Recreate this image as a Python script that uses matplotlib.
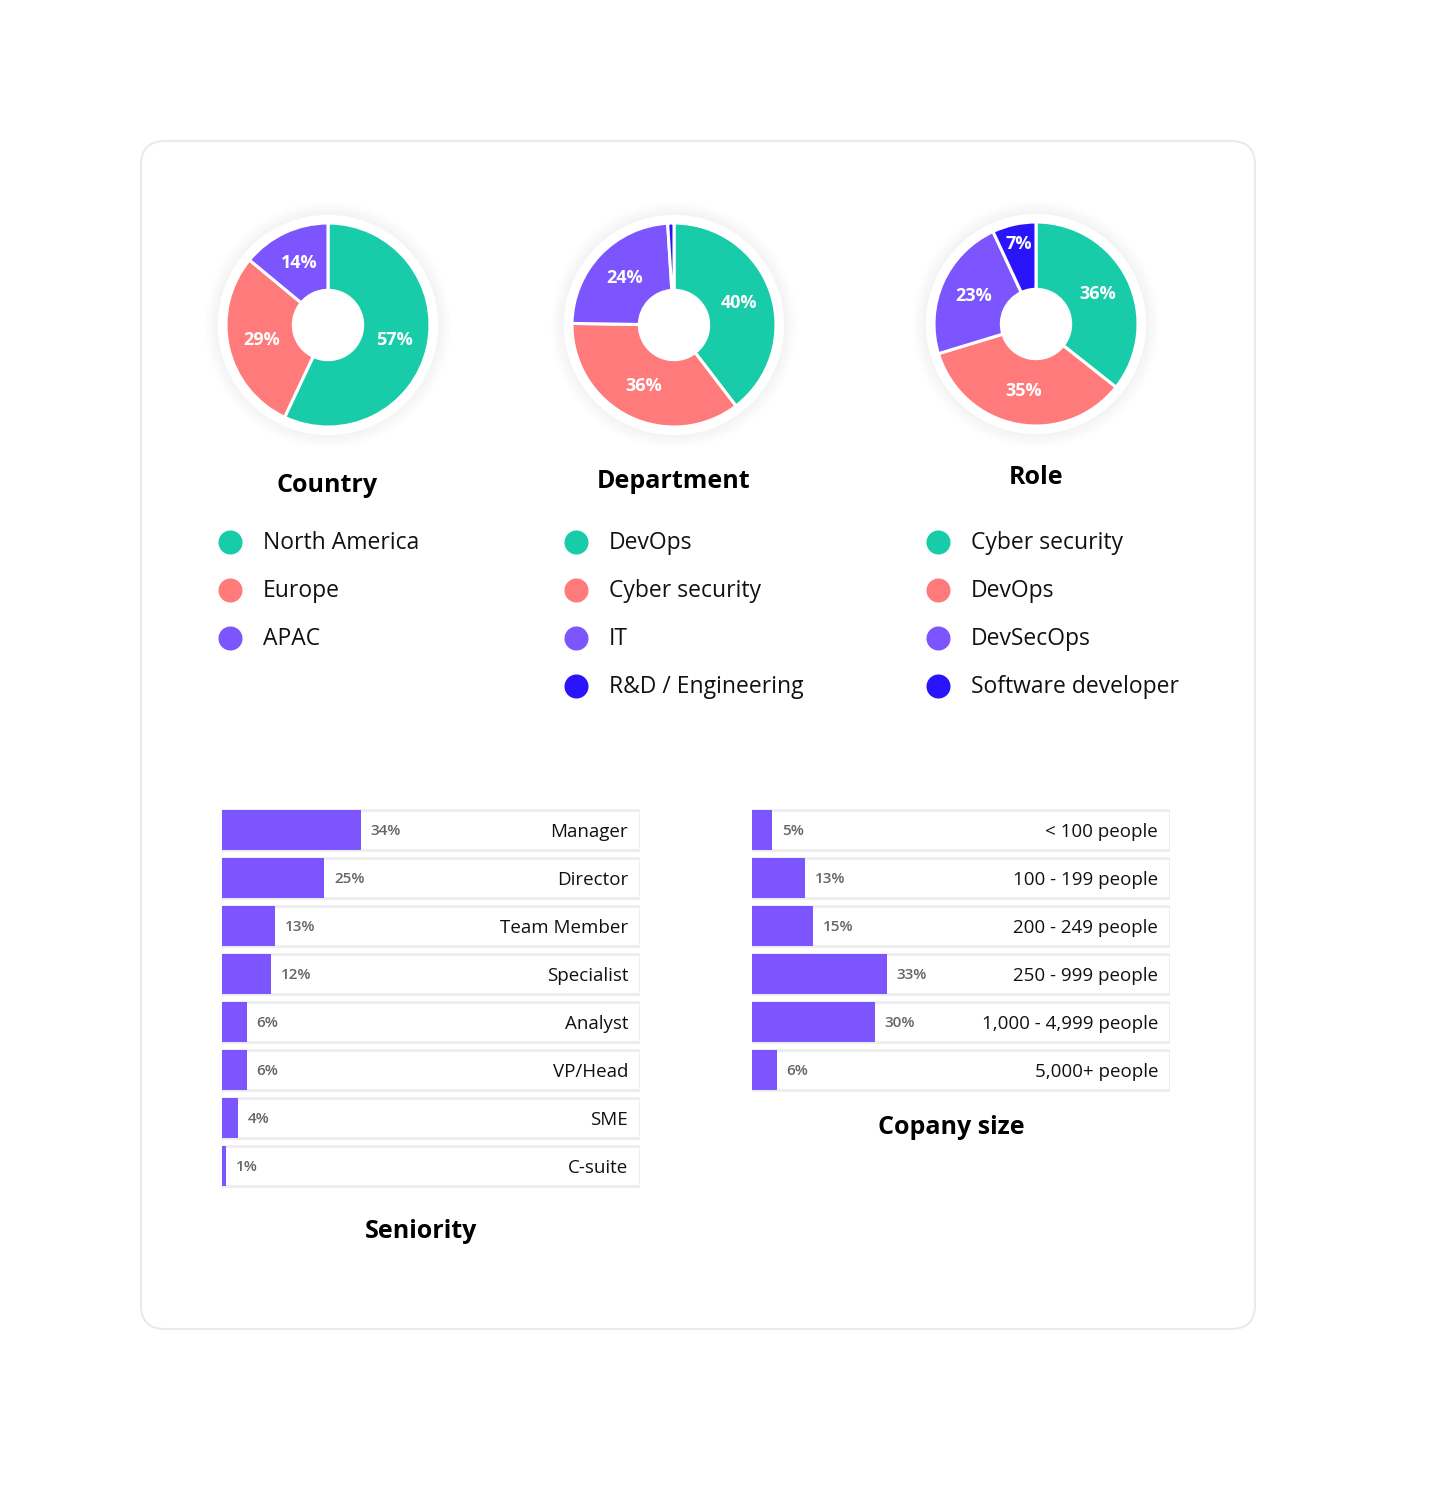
"""
Survey demographics card: three donut charts and two bar lists
"""

import matplotlib
matplotlib.use('Agg')
import matplotlib.pyplot as plt
from matplotlib.patches import FancyBboxPatch, Circle

plt.rcParams['font.family'] = ['Open Sans', 'DejaVu Sans']

W, H = 1436, 1510

# Colours
GREEN = '#19CCA9'
SALMON = '#FF7A7A'
PURPLE = '#7C55FE'
BLUE = '#2A14FB'

# Donut data
country_names = ['North America', 'Europe', 'APAC']
country_vals = [57, 29, 14]

dept_names = ['DevOps', 'Cyber security', 'IT', 'R&D / Engineering']
dept_vals = [40, 36, 24, 1]

role_names = ['Cyber security', 'DevOps', 'DevSecOps', 'Software developer']
role_vals = [36, 35, 23, 7]

# Bar data
seniority_names = ['Manager', 'Director', 'Team Member', 'Specialist',
                   'Analyst', 'VP/Head', 'SME', 'C-suite']
seniority_vals = [34, 25, 13, 12, 6, 6, 4, 1]

size_names = ['< 100 people', '100 - 199 people', '200 - 249 people',
              '250 - 999 people', '1,000 - 4,999 people', '5,000+ people']
size_vals = [5, 13, 15, 33, 30, 6]


def px_axes(fig, x0, y0, w, h):
    """Add axes given a pixel box (top-left origin)"""
    return fig.add_axes([x0 / W, 1 - (y0 + h) / H, w / W, h / H])


def draw_donut(fig, cx, cy, values, colors):
    r_px = 102
    half = 140
    ax = px_axes(fig, cx - half, cy - half, 2 * half, 2 * half)
    lim = half / r_px

    # soft shadow + white ring
    for i in range(12):
        ax.add_patch(Circle((0, 0), 1.08 + i * 0.012, facecolor='#000000',
                            alpha=0.004, lw=0, zorder=0))
    ax.add_patch(Circle((0, 0), 1.08, facecolor='white', lw=0, zorder=1))

    wedges, texts, autotexts = ax.pie(
        values, colors=colors, startangle=90, counterclock=False, radius=1,
        wedgeprops=dict(width=0.66, edgecolor='white', linewidth=2.2),
        autopct=lambda p: f'{p:.0f}%' if p > 2 else '', pctdistance=0.67,
        textprops=dict(color='white', fontsize=13, fontweight='bold'))
    for w in wedges:
        w.set_zorder(2)
    total = sum(values)
    for t, v in zip(autotexts, values):
        t.set_zorder(3)
        if v / total < 0.1:
            x, y = t.get_position()
            t.set_position((x * 0.8 / 0.67, y * 0.8 / 0.67))

    # pie() resets the limits, so set them afterwards
    ax.set_xlim(-lim, lim)
    ax.set_ylim(-lim, lim)
    ax.set_aspect('equal')
    ax.axis('off')
    return ax


def draw_legend(ax, x, names, colors):
    for i, (n, c) in enumerate(zip(names, colors)):
        y = 542 + i * 48
        ax.scatter([x], [y], s=300, color=c, lw=0, zorder=3)
        ax.text(x + 33, y + 1, n, fontsize=16.5, color='#111111',
                va='center', ha='left', zorder=3)


def draw_bars(fig, x0, y0, names, values):
    n = len(names)
    ax = px_axes(fig, x0, y0, 418, n * 48)
    xmax = 102
    ypos = list(range(n))
    ax.barh(ypos, [xmax] * n, height=0.83, color='white',
            edgecolor='#EDEDED', linewidth=2, zorder=1)
    ax.barh(ypos, values, height=0.83, color=PURPLE, lw=0, zorder=2)
    for y, v, name in zip(ypos, values, names):
        ax.text(v + 2.3, y + 0.03, f'{v}%', fontsize=11, color='#666666',
                fontweight='semibold', va='center', ha='left', zorder=3)
        ax.text(xmax - 2.9, y + 0.04, name, fontsize=13.5, color='#111111',
                va='center', ha='right', zorder=3)
    ax.set_xlim(0, xmax)
    ax.set_ylim(n - 0.5, -0.5)
    ax.axis('off')
    return ax


fig = plt.figure(figsize=(W / 100, H / 100), dpi=100)
fig.patch.set_facecolor('white')

bg = fig.add_axes([0, 0, 1, 1])
bg.set_xlim(0, W)
bg.set_ylim(H, 0)
bg.axis('off')

# card shadow (very faint)
for i in range(40):
    pad = i * 2.5
    bg.add_patch(FancyBboxPatch(
        (141 - pad, 141 - pad), 1114 + 2 * pad, 1188 + 2 * pad,
        boxstyle=f'round,pad=0,rounding_size={24 + pad}',
        facecolor='#000000', alpha=0.0006, lw=0, zorder=0))
bg.add_patch(FancyBboxPatch((141, 141), 1114, 1188,
                            boxstyle='round,pad=0,rounding_size=24',
                            facecolor='white', edgecolor='#EAEAEA',
                            lw=1.5, zorder=1))

draw_donut(fig, 328, 325, country_vals, [GREEN, SALMON, PURPLE])
draw_donut(fig, 674, 325, dept_vals, [GREEN, SALMON, PURPLE, BLUE])
draw_donut(fig, 1036, 324, role_vals, [GREEN, SALMON, PURPLE, BLUE])

title_kw = dict(fontsize=18, fontweight='bold', color='#000000',
                ha='center', va='center', zorder=3)
bg.text(327, 486, 'Country', **title_kw)
bg.text(674, 482, 'Department', **title_kw)
bg.text(1036, 478, 'Role', **title_kw)

draw_legend(bg, 230, country_names, [GREEN, SALMON, PURPLE])
draw_legend(bg, 576, dept_names, [GREEN, SALMON, PURPLE, BLUE])
draw_legend(bg, 938, role_names, [GREEN, SALMON, PURPLE, BLUE])

draw_bars(fig, 222, 806, seniority_names, seniority_vals)
draw_bars(fig, 752, 806, size_names, size_vals)

bg.text(421, 1232, 'Seniority', **title_kw)
bg.text(951, 1128, 'Copany size', **title_kw)

fig.savefig('out.png', dpi=100, facecolor='white')
